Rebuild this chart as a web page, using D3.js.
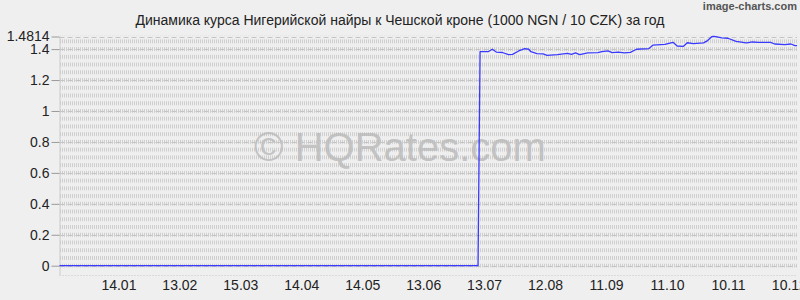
<!DOCTYPE html>
<html>
<head>
<meta charset="utf-8">
<script src="https://d3js.org/d3.v7.min.js"></script>
<style>
body { margin: 0; background: #efefef; }
text { font-family: "Liberation Sans", Arial, sans-serif; }
</style>
</head>
<body>
<svg width="800" height="300"></svg>

<script>

var title = "Динамика курса Нигерийской найры к Чешской кроне (1000 NGN / 10 CZK) за год";

// rate points (zero = no data before july)
var dates = [
  "2024-12-16", "2025-07-10", "2025-07-11", "2025-07-15", "2025-07-17", "2025-07-19",
  "2025-07-22", "2025-07-25", "2025-07-27", "2025-07-30", "2025-08-02", "2025-08-04",
  "2025-08-05", "2025-08-08", "2025-08-11", "2025-08-13", "2025-08-18", "2025-08-23",
  "2025-08-25", "2025-08-27", "2025-08-29", "2025-09-02", "2025-09-07", "2025-09-09",
  "2025-09-12", "2025-09-14", "2025-09-17", "2025-09-20", "2025-09-23", "2025-09-26",
  "2025-10-02", "2025-10-04", "2025-10-08", "2025-10-10", "2025-10-14", "2025-10-16",
  "2025-10-19", "2025-10-21", "2025-10-24", "2025-10-29", "2025-10-31", "2025-11-02",
  "2025-11-03", "2025-11-04", "2025-11-07", "2025-11-10", "2025-11-14", "2025-11-19",
  "2025-11-20", "2025-11-22", "2025-11-25", "2025-12-01", "2025-12-03", "2025-12-08",
  "2025-12-11", "2025-12-13", "2025-12-14"
];
var rates = [
  0, 0, 1.383, 1.383, 1.399, 1.381,
  1.378, 1.364, 1.366, 1.388, 1.403, 1.399,
  1.383, 1.371, 1.369, 1.360, 1.364, 1.373,
  1.366, 1.375, 1.364, 1.375, 1.377, 1.383,
  1.388, 1.377, 1.381, 1.375, 1.379, 1.399,
  1.403, 1.425, 1.429, 1.431, 1.444, 1.420,
  1.417, 1.441, 1.435, 1.440, 1.455, 1.480,
  1.4814, 1.480, 1.472, 1.470, 1.450, 1.440,
  1.442, 1.446, 1.444, 1.444, 1.433, 1.429,
  1.433, 1.422, 1.422
];

var yTicks = [0, 0.2, 0.4, 0.6, 0.8, 1, 1.2, 1.4, 1.4814];
var xTicks = ["2025-01-14", "2025-02-13", "2025-03-15", "2025-04-14", "2025-05-14", "2025-06-13",
              "2025-07-13", "2025-08-12", "2025-09-11", "2025-10-11", "2025-11-10", "2025-12-10"];

var parse = d3.timeParse("%Y-%m-%d");
var data = dates.map(function(d, i) { return {date: parse(d), value: rates[i]}; });

var svg = d3.select("svg");

var plotLeft = 59.5, plotRight = 797, plotTop = 36.5, plotZero = 265.7, plotBottom = 275;

var x = d3.scaleTime()
    .domain([parse("2024-12-16"), parse("2025-12-14")])
    .range([plotLeft, plotRight]);

var y = d3.scaleLinear()
    .domain([0, 1.4814])
    .range([plotZero, plotTop]);

var step = y(0) - y(0.05);

svg.append("rect")
    .attr("width", 800)
    .attr("height", 300)
    .attr("fill", "#efefef");

// fine dashed texture of the grid
var pattern = svg.append("defs").append("pattern")
    .attr("id", "grid")
    .attr("patternUnits", "userSpaceOnUse")
    .attr("width", 2)
    .attr("height", step)
    .attr("y", y(0) - 2);

pattern.append("rect")
    .attr("width", 1)
    .attr("height", 4)
    .attr("fill", "#cfcfcf");

svg.append("rect")
    .attr("x", plotLeft)
    .attr("y", plotTop - 1)
    .attr("width", plotRight - plotLeft)
    .attr("height", y(0) - plotTop + 3)
    .attr("fill", "url(#grid)");

// watermark
svg.append("text")
    .attr("x", 400)
    .attr("y", 161)
    .attr("text-anchor", "middle")
    .attr("font-size", 40)
    .attr("fill", "#b8b8b8")
    .attr("fill-opacity", 0.8)
    .text("© HQRates.com");

// major grid lines
svg.append("g")
    .selectAll("line")
    .data(yTicks)
    .enter().append("line")
      .attr("x1", plotLeft)
      .attr("x2", plotRight)
      .attr("y1", function(d) { return Math.round(y(d)) + 0.5; })
      .attr("y2", function(d) { return Math.round(y(d)) + 0.5; })
      .attr("stroke", "#c4c4c4")
      .attr("stroke-dasharray", "5,3");

svg.append("line")
    .attr("x1", plotLeft)
    .attr("x2", plotRight)
    .attr("y1", plotBottom + 0.5)
    .attr("y2", plotBottom + 0.5)
    .attr("stroke", "#c4c4c4")
    .attr("stroke-dasharray", "1,2");

svg.append("line")
    .attr("x1", plotLeft + 0.5)
    .attr("x2", plotLeft + 0.5)
    .attr("y1", plotTop)
    .attr("y2", plotBottom)
    .attr("stroke", "#cccccc");

// y axis
var yAxis = svg.append("g")
    .attr("transform", "translate(" + plotLeft + ",0)")
    .call(d3.axisLeft(y)
      .tickValues(yTicks)
      .tickFormat(function(d) { return d3.format("~r")(d); })
      .tickSize(8)
      .tickPadding(2));

yAxis.select(".domain").remove();
yAxis.selectAll(".tick line").attr("stroke", "#9a9a9a");
yAxis.selectAll("text")
    .attr("font-size", 14)
    .attr("fill", "#222")
    .attr("font-family", "Liberation Sans, Arial, sans-serif");

// x axis labels
var xAxis = svg.append("g")
    .attr("transform", "translate(0," + plotBottom + ")")
    .call(d3.axisBottom(x)
      .tickValues(xTicks.map(parse))
      .tickFormat(d3.timeFormat("%d.%m"))
      .tickSize(0)
      .tickPadding(5));

xAxis.select(".domain").remove();
xAxis.selectAll("text")
    .attr("font-size", 14)
    .attr("fill", "#222")
    .attr("font-family", "Liberation Sans, Arial, sans-serif");

// rate line
var line = d3.line()
    .x(function(d) { return x(d.date); })
    .y(function(d) { return y(d.value); });

svg.append("path")
    .datum(data)
    .attr("fill", "none")
    .attr("stroke", "#3a3aff")
    .attr("stroke-width", 1.3)
    .attr("stroke-linejoin", "round")
    .attr("d", line);

// title
svg.append("text")
    .attr("x", 400)
    .attr("y", 25)
    .attr("text-anchor", "middle")
    .attr("font-size", 14)
    .attr("fill", "#222")
    .text(title);

svg.append("text")
    .attr("x", 797)
    .attr("y", 10)
    .attr("text-anchor", "end")
    .attr("font-size", 11)
    .attr("font-family", "DejaVu Sans Condensed, sans-serif")
    .attr("font-weight", "bold")
    .attr("fill", "#555")
    .text("image-charts.com");

</script>
</body>
</html>
